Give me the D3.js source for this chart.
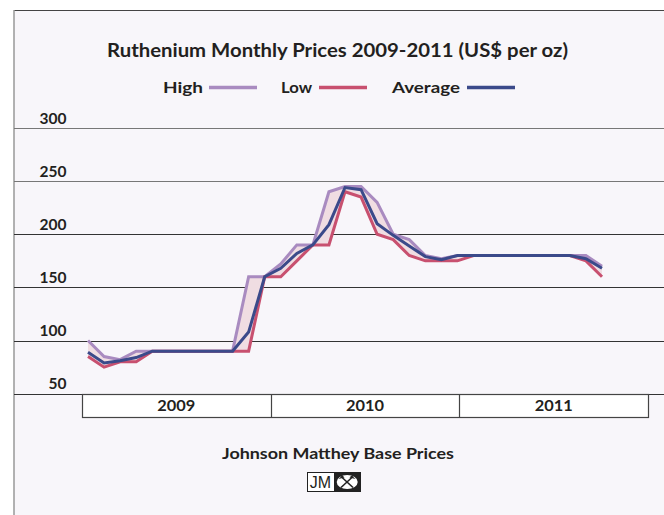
<!DOCTYPE html>
<html><head><meta charset="utf-8">
<script src="https://cdn.jsdelivr.net/npm/d3@7"></script>
<style>
html,body{margin:0;padding:0;background:#fff;}
svg{display:block;}
text{font-family:Lato,"Open Sans",sans-serif;font-weight:700;fill:#231f20;}
</style></head>
<body>
<script>
const monthIndex = d3.range(33); // Jan 2009 .. Sep 2011
const high = [100,85,82,90,90,90,90,90,90,90,160,160,172,190,190,240,245,245,230,200,195,180,177,180,180,180,180,180,180,180,180,180,170];
const low  = [85,75,80,80,90,90,90,90,90,90,90,160,160,175,190,190,240,235,200,195,180,175,175,175,180,180,180,180,180,180,180,175,160];
const avg  = [89,79,81,84,90,90,90,90,90,90,108,160,168,182,190,209,244,242,210,199,189,179,176,180,180,180,180,180,180,180,180,177,168];
const years = ["2009","2010","2011"];
const yTicks = [50,100,150,200,250,300];
const seriesNames = ["High","Low","Average"];
const colors = {High:"#a98bc0", Low:"#c8506f", Average:"#3b4a8a"};

const W=664,H=515;
const svg=d3.select("body").append("svg").attr("width",W).attr("height",H);
svg.append("rect").attr("x",14).attr("y",10).attr("width",W-14).attr("height",H-10).attr("fill","#f8f6fa");
svg.append("line").attr("x1",14).attr("x2",W).attr("y1",10.5).attr("y2",10.5).attr("stroke","#444").attr("stroke-width",1.2);
svg.append("line").attr("x1",14).attr("x2",14).attr("y1",10).attr("y2",H).attr("stroke","#999").attr("stroke-width",1.5);

const x=d3.scaleLinear().domain([0,32]).range([88,602]);
const y=d3.scaleLinear().domain([50,300]).range([393.7,128]);
const xb=d3.scaleBand().domain(years).range([82,648]);

// title
svg.append("text").attr("x",337.5).attr("y",57).attr("text-anchor","middle").attr("font-size",18.5)
  .attr("textLength",461).attr("lengthAdjust","spacingAndGlyphs")
  .text("Ruthenium Monthly Prices 2009-2011 (US$ per oz)");

// legend
const legendPos=[{t:163,w:40,l:209},{t:281,w:31,l:319},{t:392,w:68,l:467}];
seriesNames.forEach((n,i)=>{
  const p=legendPos[i];
  svg.append("text").attr("x",p.t).attr("y",92.5).attr("font-size",15)
    .attr("textLength",p.w).attr("lengthAdjust","spacingAndGlyphs").text(n);
  svg.append("line").attr("x1",p.l).attr("x2",p.l+48).attr("y1",87.5).attr("y2",87.5)
    .attr("stroke",colors[n]).attr("stroke-width",3.5);
});

// grid + y labels
yTicks.forEach(v=>{
  svg.append("line").attr("x1",14).attr("x2",W).attr("y1",Math.round(y(v))+0.5).attr("y2",Math.round(y(v))+0.5)
    .attr("stroke",v>=250?"#777":"#333").attr("stroke-width",1.2);
  svg.append("text").attr("x",66.5).attr("y",y(v)-4.5).attr("text-anchor","end").attr("font-size",15.5).text(v);
});

// year boxes
const yb0=Math.round(y(50))+0.5, yb1=417.5;
svg.append("rect").attr("x",xb.range()[0]+0.5).attr("y",yb0).attr("width",xb.range()[1]-xb.range()[0]).attr("height",yb1-yb0)
  .attr("fill","#fff").attr("stroke","#444").attr("stroke-width",1.2);
years.forEach((yr,i)=>{
  if(i>0) svg.append("line").attr("x1",Math.round(xb(yr))+0.5).attr("x2",Math.round(xb(yr))+0.5).attr("y1",yb0).attr("y2",yb1).attr("stroke","#444").attr("stroke-width",1.2);
  svg.append("text").attr("x",xb(yr)+xb.bandwidth()/2).attr("y",411).attr("text-anchor","middle").attr("font-size",15.5)
    .attr("textLength",38).attr("lengthAdjust","spacingAndGlyphs").text(yr);
});

// band
const area=d3.area().x(i=>x(i)).y0(i=>y(low[i])).y1(i=>y(high[i]));
svg.append("path").attr("d",area(monthIndex)).attr("fill","#f0dde2");
const mk=arr=>d3.line().x(i=>x(i)).y(i=>y(arr[i]));
[["High",high],["Low",low],["Average",avg]].forEach(([n,arr])=>{
  svg.append("path").attr("d",mk(arr)(monthIndex)).attr("fill","none").attr("stroke",colors[n])
    .attr("stroke-width",3).attr("stroke-linejoin","miter");
});

// footer
svg.append("text").attr("x",338).attr("y",459).attr("text-anchor","middle").attr("font-size",15)
  .attr("textLength",232).attr("lengthAdjust","spacingAndGlyphs").text("Johnson Matthey Base Prices");
const lg=svg.append("g");
lg.append("rect").attr("x",307.5).attr("y",472.5).attr("width",53).attr("height",19).attr("fill","#fff").attr("stroke","#222");
lg.append("rect").attr("x",334).attr("y",472.5).attr("width",26.5).attr("height",19).attr("fill","#222");
lg.append("text").attr("x",320.5).attr("y",488).attr("text-anchor","middle").attr("font-size",16)
  .style("font-family","'Liberation Sans',sans-serif").style("font-weight",400).text("JM");
lg.append("ellipse").attr("cx",347.2).attr("cy",482).attr("rx",10.5).attr("ry",7).attr("fill","#fff");
lg.append("line").attr("x1",341).attr("y1",476.5).attr("x2",353).attr("y2",487.5).attr("stroke","#222").attr("stroke-width",1.6);
lg.append("line").attr("x1",353).attr("y1",476.5).attr("x2",341).attr("y2",487.5).attr("stroke","#222").attr("stroke-width",1.6);
lg.append("path").attr("d","M338.5,479 l4,-3.5 l2,2 z").attr("fill","#222");
lg.append("path").attr("d","M355.5,479 l-4,-3.5 l-2,2 z").attr("fill","#222");
</script>
</body></html>
